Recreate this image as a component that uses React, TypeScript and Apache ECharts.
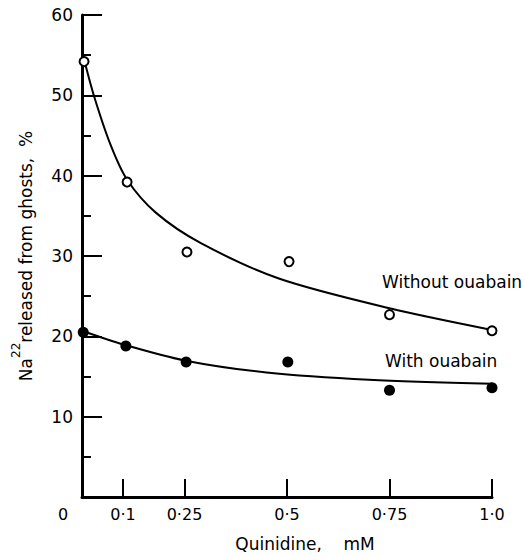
import React, { useEffect, useRef } from "react";
import * as echarts from "echarts";

const xTickValues = [0, 0.1, 0.25, 0.5, 0.75, 1.0];
const xTickLabels = ["0", "0·1", "0·25", "0·5", "0·75", "1·0"];

// measured points
const withoutOuabainPts: [number, number][] = [
  [0.005, 54.2], [0.11, 39.2], [0.256, 30.5], [0.505, 29.3], [0.75, 22.7], [1.0, 20.7],
];
const withOuabainPts: [number, number][] = [
  [0.003, 20.5], [0.107, 18.8], [0.254, 16.8], [0.502, 16.8], [0.75, 13.3], [1.0, 13.6],
];

// hand-drawn fitted curves
const withoutCurve: [number, number][] = [
  [0.005, 54.5], [0.03, 49.8], [0.07, 43.8], [0.11, 39.5], [0.18, 35.4],
  [0.29, 31.6], [0.48, 27.2], [0.75, 23.5], [1.0, 20.8],
];
const withCurve: [number, number][] = [
  [0.005, 20.6], [0.1, 19.0], [0.25, 17.0], [0.45, 15.5], [0.7, 14.6], [1.0, 14.1],
];

const FONT = "DejaVu Sans";

export default function App() {
  const ref = useRef<HTMLDivElement>(null);
  useEffect(() => {
    if (!ref.current) return;
    const chart = echarts.init(ref.current, null, { renderer: "svg" });
    chart.setOption({
      animation: false,
      backgroundColor: "#fff",
      grid: { left: 82, right: 33, top: 15, bottom: 60 },
      xAxis: {
        type: "value",
        min: 0,
        max: 1.0,
        name: "Quinidine,    mM",
        nameLocation: "middle",
        nameGap: 38,
        nameTextStyle: { fontFamily: FONT, fontSize: 17, color: "#000", padding: [0, 0, 0, 36] },
        axisLine: { show: true, lineStyle: { color: "#000", width: 3 } },
        axisTick: {
          show: true,
          inside: true,
          length: 18,
          customValues: xTickValues.slice(1),
          lineStyle: { color: "#000", width: 2 },
        },
        axisLabel: {
          customValues: xTickValues,
          margin: 9,
          fontFamily: FONT,
          fontSize: 16,
          color: "#000",
          formatter: (v: number) => {
            const i = xTickValues.findIndex((t) => Math.abs(t - v) < 1e-9);
            if (i === 0) return "{z|0}";
            return i >= 0 ? xTickLabels[i] : "";
          },
          rich: { z: { fontFamily: FONT, fontSize: 16, color: "#000", padding: [0, 38, 0, 0] } },
        },
        splitLine: { show: false },
      },
      yAxis: {
        type: "value",
        min: 0,
        max: 60,
        interval: 10,
        name: "{b|Na}{s|22}{b|released from ghosts,  %}",
        nameLocation: "middle",
        nameGap: 48,
        nameTextStyle: {
          fontFamily: FONT,
          fontSize: 17,
          color: "#000",
          rich: {
            b: { fontFamily: FONT, fontSize: 17, color: "#000", lineHeight: 24, verticalAlign: "bottom" },
            s: { fontFamily: FONT, fontSize: 12, color: "#000", lineHeight: 24, verticalAlign: "top" },
          },
        },
        axisLine: { show: true, lineStyle: { color: "#000", width: 3 } },
        axisTick: { show: true, inside: true, length: 20, lineStyle: { color: "#000", width: 2 } },
        minorTick: { show: true, splitNumber: 2, length: 9, lineStyle: { color: "#000", width: 2 } },
        axisLabel: {
          margin: 9,
          fontFamily: FONT,
          fontSize: 17,
          color: "#000",
          formatter: (v: number) => (v === 0 ? "" : String(v)),
        },
        splitLine: { show: false },
        minorSplitLine: { show: false },
      },
      series: [
        {
          type: "line",
          data: withoutCurve,
          smooth: 0.3,
          showSymbol: false,
          lineStyle: { color: "#000", width: 2 },
          z: 2,
        },
        {
          type: "line",
          data: withCurve,
          smooth: 0.3,
          showSymbol: false,
          lineStyle: { color: "#000", width: 2 },
          z: 2,
        },
        {
          type: "scatter",
          data: withoutOuabainPts,
          symbol: "circle",
          symbolSize: 9,
          itemStyle: { color: "#fff", borderColor: "#000", borderWidth: 2, opacity: 1 },
          z: 3,
        },
        {
          type: "scatter",
          data: withOuabainPts,
          symbol: "circle",
          symbolSize: 11,
          itemStyle: { color: "#000", opacity: 1 },
          z: 3,
        },
      ],
      graphic: [
        {
          type: "text",
          left: 382,
          top: 273,
          style: { text: "Without ouabain", fontFamily: FONT, fontSize: 17, fill: "#000" },
        },
        {
          type: "text",
          left: 385,
          top: 352,
          style: { text: "With ouabain", fontFamily: FONT, fontSize: 17, fill: "#000" },
        },
      ],
    });
    return () => chart.dispose();
  }, []);
  return (
    <div
      ref={ref}
      style={{ position: "fixed", left: 0, top: 0, width: 525, height: 557, background: "#fff" }}
    />
  );
}
